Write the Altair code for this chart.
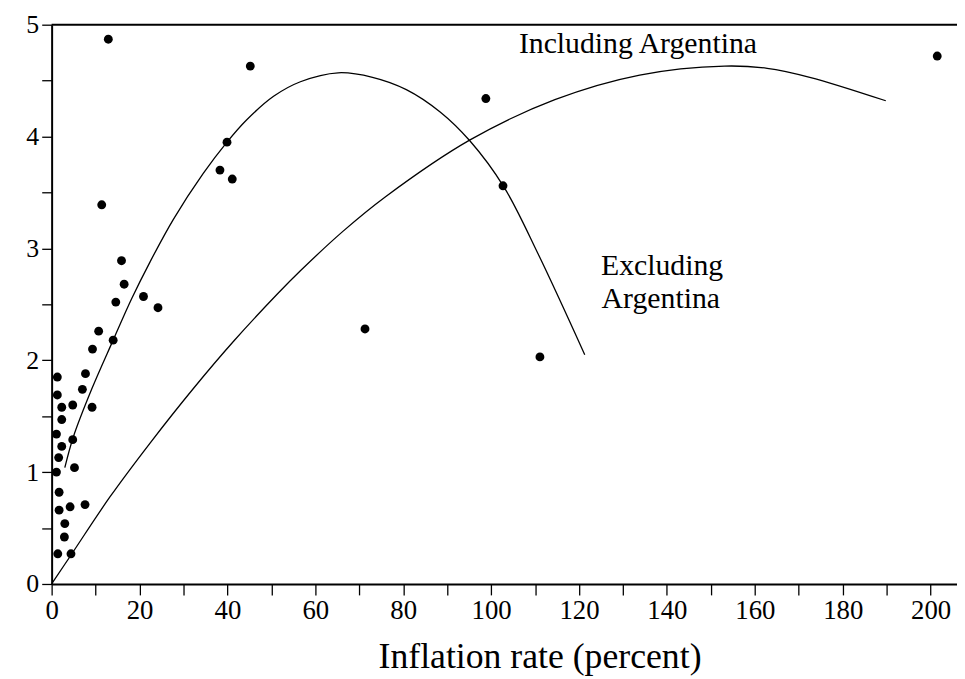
import altair as alt
import pandas as pd

# ---- data ----
inflation = [12.9, 45.2, 201.5, 98.8, 39.9, 38.3, 41.1, 11.4, 102.7, 15.9,
             16.5, 14.6, 20.9, 24.2, 10.7, 14.0, 9.3, 71.3, 111.1, 7.7,
             7.0, 9.2, 1.3, 1.3, 2.3, 4.8, 2.3, 1.1, 4.8, 2.3,
             1.6, 5.2, 1.1, 1.7, 1.7, 4.2, 7.6, 3.0, 2.9, 1.4, 4.4]
growth = [4.87, 4.63, 4.72, 4.34, 3.95, 3.70, 3.62, 3.39, 3.56, 2.89,
          2.68, 2.52, 2.57, 2.47, 2.26, 2.18, 2.10, 2.28, 2.03, 1.88,
          1.74, 1.58, 1.85, 1.69, 1.58, 1.60, 1.47, 1.34, 1.29, 1.23,
          1.13, 1.04, 1.00, 0.82, 0.66, 0.69, 0.71, 0.54, 0.42, 0.27, 0.27]

# steep fitted curve
curve_a_x = [3.0, 4.9, 9.1, 14.0, 18.2, 22.4, 27.7, 34.5, 39.9, 44.4,
             50.5, 56.6, 65.2, 73.0, 80.7, 88.4, 95.2, 102.9, 110.7, 121.3]
curve_a_y = [1.04, 1.31, 1.74, 2.18, 2.55, 2.88, 3.26, 3.67, 3.95, 4.15,
             4.36, 4.49, 4.57, 4.53, 4.42, 4.22, 3.96, 3.55, 2.95, 2.05]

# wide fitted curve
curve_b_x = [0.0, 4.6, 13.3, 22.4, 32.3, 41.4, 51.3, 56.6, 66.2, 75.9,
             95.2, 114.5, 133.8, 153.1, 162.8, 172.5, 189.8]
curve_b_y = [0.0, 0.27, 0.78, 1.26, 1.75, 2.17, 2.59, 2.80, 3.15, 3.46,
             3.97, 4.33, 4.55, 4.63, 4.61, 4.53, 4.32]

label_text = ["Including Argentina", "Excluding", "Argentina"]
label_x = [133.4, 138.9, 138.6]
label_y = [4.75, 2.76, 2.47]

x_ticks = list(range(0, 201, 10))
y_ticks = [0, 0.5, 1, 1.5, 2, 2.5, 3, 3.5, 4, 4.5, 5]

# ---- tables ----
pts = pd.DataFrame({"inflation": inflation, "growth": growth})
curves = pd.DataFrame({
    "inflation": curve_a_x + curve_b_x,
    "growth": curve_a_y + curve_b_y,
    "fit": ["a"] * len(curve_a_x) + ["b"] * len(curve_b_x),
})
labels = pd.DataFrame({"inflation": label_x, "growth": label_y, "text": label_text})

FONT = "Liberation Serif"

xscale = alt.Scale(domain=[0, 206], nice=False, zero=False)
yscale = alt.Scale(domain=[0, 5], nice=False, zero=False)

xaxis = alt.Axis(
    values=x_ticks,
    labelExpr="datum.value % 20 == 0 ? format(datum.value, 'd') : ''",
    labelOverlap=False, labelFlush=False,
    tickSize=11, tickWidth=1.3, tickColor="black",
    domainColor="black", domainWidth=2,
    labelFont=FONT, labelFontSize=27, labelColor="black", labelPadding=3,
    title="Inflation rate (percent)", titleFont=FONT, titleFontSize=36,
    titleFontWeight="normal", titleColor="black",
    titleX=492, titleY=84, titleAlign="center", titleBaseline="alphabetic",
    grid=False,
)
yaxis = alt.Axis(
    values=y_ticks,
    labelExpr="datum.value % 1 == 0 ? format(datum.value, 'd') : ''",
    labelOverlap=False, labelFlush=False,
    tickSize=10, tickWidth=1.3, tickColor="black",
    domainColor="black", domainWidth=2,
    labelFont=FONT, labelFontSize=26, labelColor="black", labelPadding=3,
    title=None, grid=False,
)

X = alt.X("inflation:Q", scale=xscale, axis=xaxis)
Y = alt.Y("growth:Q", scale=yscale, axis=yaxis)

points = alt.Chart(pts).mark_circle(size=80, color="black", opacity=1).encode(x=X, y=Y)

lines = alt.Chart(curves).mark_line(
    color="black", strokeWidth=1.3, interpolate="catmull-rom"
).encode(x=X, y=Y, detail="fit:N")

texts = alt.Chart(labels).mark_text(
    font=FONT, fontSize=30, align="center", baseline="alphabetic", color="black"
).encode(x=X, y=Y, text="text:N")

top_rule = alt.Chart(pd.DataFrame({"v": [5]})).mark_rule(
    color="black", strokeWidth=2
).encode(y=alt.Y("v:Q", scale=yscale, axis=yaxis))

chart = alt.layer(lines, points, texts, top_rule).properties(
    width=913, height=564,
    padding={"left": 44, "top": 14, "right": 0, "bottom": 95},
    autosize=alt.AutoSizeParams(type="none"),
    background="white",
).configure_view(stroke=None)

chart.save("out.html", embed_options={"renderer": "svg", "actions": False})
